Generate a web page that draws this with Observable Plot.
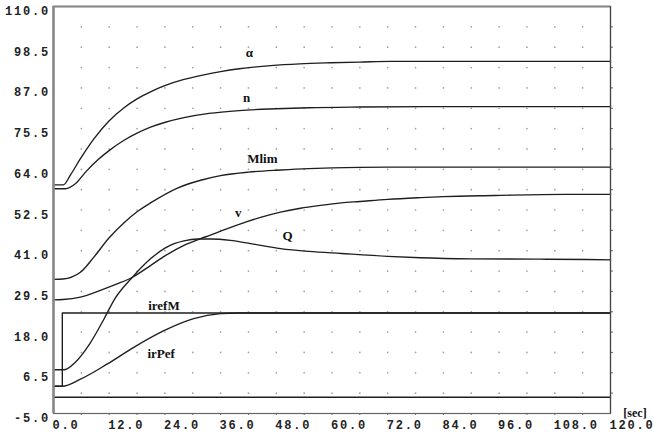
<!DOCTYPE html>
<html><head><meta charset="utf-8">
<script src="https://cdn.jsdelivr.net/npm/d3@7"></script>
<script src="https://cdn.jsdelivr.net/npm/@observablehq/plot@0.6"></script>
<style>
html,body{margin:0;padding:0;background:#fff;}
#chart svg{display:block;}
#chart g[aria-label$="tick label"] text{letter-spacing:1.8px;}
</style></head><body><div id="chart"></div>
<script>
// ---- data ----
const xTicks = [0, 12, 24, 36, 48, 60, 72, 84, 96, 108, 120];
const yTicks = [-5, 6.5, 18, 29.5, 41, 52.5, 64, 75.5, 87, 98.5, 110];
const gridX = [6, 12, 18, 24, 30, 36, 42, 48, 54, 60, 66, 72, 78, 84, 90, 96, 102, 108, 114];
const gridY = [0.75, 6.5, 12.25, 18, 23.75, 29.5, 35.25, 41, 46.75, 52.5, 58.25, 64, 69.75, 75.5, 81.25, 87, 92.75, 98.5, 104.25];

const alphaT = [0, 2.1, 3.7, 5.8, 8.7, 11.9, 15.2, 18.0, 20.9, 24.1, 28.1, 32.4, 36, 40, 46.8, 53, 59.7, 66, 72.6, 84, 96, 108, 120];
const alphaV = [59.6, 59.6, 62.5, 67.0, 72.6, 77.6, 81.4, 83.9, 85.9, 87.7, 89.4, 90.7, 91.6, 92.4, 93.3, 93.8, 94.1, 94.3, 94.5, 94.5, 94.5, 94.5, 94.5];

const nT = [0, 2.6, 4.7, 6.9, 9.5, 11.9, 15.2, 18.0, 20.9, 24.1, 28.1, 33.5, 40, 48, 55, 66, 80, 87, 100, 120];
const nV = [58.5, 58.5, 59.9, 63.2, 66.6, 69.2, 72.2, 74.2, 75.9, 77.3, 78.6, 79.8, 80.6, 81.1, 81.4, 81.6, 81.7, 81.7, 81.7, 81.7];

const mlimT = [0, 2, 5.8, 8.7, 11.9, 15.2, 18.0, 20.9, 26.7, 31.7, 36, 42, 48.9, 55, 60, 72, 84, 120];
const mlimV = [32.9, 33.0, 34.9, 39.2, 44.5, 48.9, 52.0, 54.5, 58.7, 60.9, 62.2, 63.2, 63.8, 64.2, 64.4, 64.6, 64.6, 64.6];

const vT = [0, 2, 5.8, 10.1, 13.7, 17.0, 20.9, 24.1, 28.1, 31.7, 33.8, 36, 40.3, 44.6, 48.9, 53.2, 57.5, 62, 66, 72, 79, 84, 95, 110, 120];
const vV = [27.1, 27.2, 27.9, 29.8, 31.6, 33.5, 36.8, 39.6, 42.5, 44.4, 45.4, 46.5, 48.6, 50.4, 51.9, 53.0, 53.8, 54.5, 54.9, 55.5, 56.0, 56.3, 56.6, 56.9, 56.9];

const qT = [0, 2.2, 4.7, 7.8, 10.8, 13.2, 17.0, 20.9, 24.1, 26, 28.1, 31, 34, 38.1, 42.5, 48.9, 55, 62, 72, 79, 90, 105, 115, 120];
const qV = [7.35, 7.35, 9.5, 14.7, 21.5, 27.4, 33.5, 38.7, 41.8, 43.0, 43.8, 44.3, 44.3, 43.9, 43.0, 41.6, 40.8, 40.2, 39.4, 39.0, 38.7, 38.6, 38.5, 38.4];

const irefMT = [0, 1.9, 1.9, 120];
const irefMV = [2.7, 2.7, 23.4, 23.4];

const irPefT = [0, 1.9, 5.8, 11.6, 17.3, 23.8, 30.2, 36, 40, 120];
const irPefV = [2.7, 2.7, 4.7, 9.0, 13.7, 18.4, 21.8, 23.2, 23.4, 23.4];

const zeroT = [0, 120];
const zeroV = [-0.4, -0.4];

const labelText = ["α", "n", "Mlim", "v", "Q", "irefM", "irPef"];
const labelT = [42.2, 41.6, 45.0, 39.8, 50.4, 23.8, 23.2];
const labelV = [96.9, 84.1, 66.9, 51.8, 45.2, 25.5, 11.9];

// ---- build ----
const pts = (T, V) => T.map((t, i) => ({t, v: V[i]}));
const smooth = [pts(alphaT, alphaV), pts(nT, nV), pts(mlimT, mlimV), pts(vT, vV), pts(qT, qV), pts(irPefT, irPefV)];
const straight = [pts(irefMT, irefMV), pts(zeroT, zeroV)];
const dots = gridX.flatMap(x => gridY.map(y => ({x, y})));
const labels = labelText.map((s, i) => ({s, t: labelT[i], v: labelV[i]}));
const fmt = d => d.toFixed(1);
const mono = "'Liberation Mono', 'DejaVu Sans Mono', monospace";
const serif = "'Liberation Serif', 'DejaVu Serif', serif";
const LC = "#1e1e1e";

const chart = Plot.plot({
  width: 654, height: 432,
  marginLeft: 53, marginRight: 44, marginTop: 6, marginBottom: 19,
  x: {domain: [0, 120]},
  y: {domain: [-5, 110]},
  style: {background: "#fff", color: "#222"},
  marks: [
    Plot.dot(dots, {x: "x", y: "y", r: 0.85, fill: "#a0a0a0", stroke: null}),
    Plot.axisX({ticks: gridX, tickSize: 2, tickFormat: () => "", stroke: "#666"}),
    Plot.axisY({anchor: "right", ticks: gridY, tickSize: 2, tickFormat: () => "", stroke: "#666"}),
    Plot.axisX({ticks: xTicks, tickSize: 0, tickPadding: 6.5, tickFormat: fmt, textAnchor: "start", dx: -1,
      fontFamily: mono, fontSize: 12, fontWeight: "bold", fill: "#222"}),
    Plot.axisY({ticks: yTicks, tickSize: 0, tickPadding: 3.5, tickFormat: fmt, dy: 4.7,
      fontFamily: mono, fontSize: 12, fontWeight: "bold", fill: "#222"}),
    ...smooth.map(d => Plot.line(d, {x: "t", y: "v", curve: "monotone-x", stroke: LC, strokeWidth: 1.35})),
    ...straight.map(d => Plot.line(d, {x: "t", y: "v", curve: "linear", stroke: LC, strokeWidth: 1.35})),
    Plot.frame({stroke: "#666", strokeWidth: 1.2}),
    Plot.ruleX([0], {stroke: "#888", strokeWidth: 2.6}),
    Plot.ruleY([110], {stroke: "#888", strokeWidth: 2.2}),
    Plot.ruleX([120], {stroke: "#444", strokeWidth: 1.2}),
    Plot.text(labels, {x: "t", y: "v", text: "s", fontFamily: serif, fontSize: 13, fontWeight: "bold", fill: "#111"}),
    Plot.text(["[sec]"], {x: () => 120, y: () => -5, text: d => d, dx: 24.5, dy: -0.8,
      fontFamily: serif, fontSize: 12, fontWeight: "bold", fill: "#111"})
  ]
});
document.getElementById("chart").appendChild(chart);
</script>
</body></html>
